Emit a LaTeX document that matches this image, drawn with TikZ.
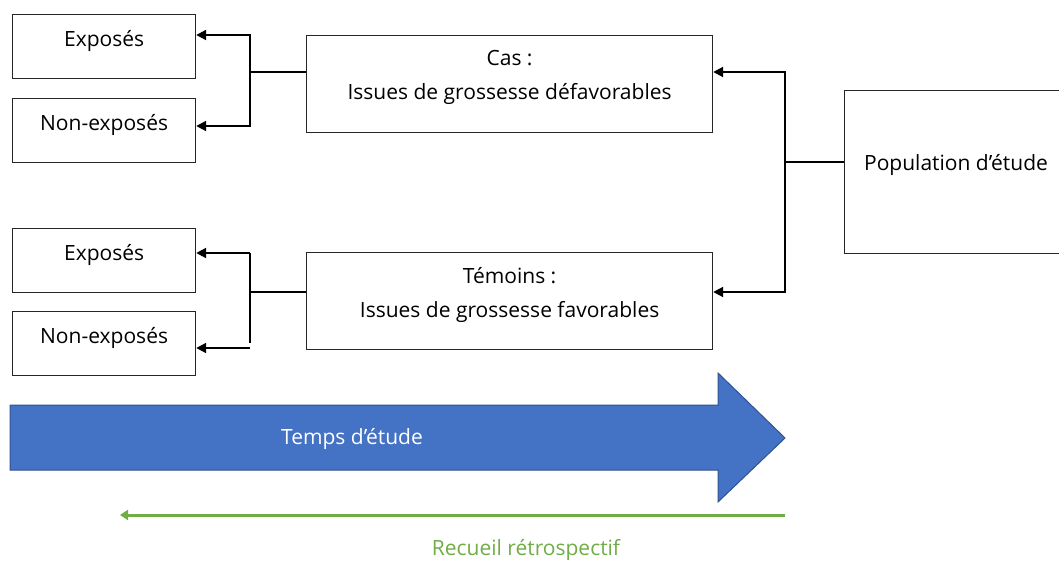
\documentclass[tikz,border=0pt]{standalone}
\usepackage{fontspec}
\setmainfont{Open Sans}
\usetikzlibrary{arrows.meta}
\definecolor{bleu}{HTML}{4472C4}
\definecolor{bleufonce}{HTML}{2F528F}
\definecolor{vert}{HTML}{70AD47}

\begin{document}
\begin{tikzpicture}[x=1pt, y=-1pt,
	boite/.style={draw=black!85, line width=1.2pt, rectangle, inner sep=0pt, anchor=north west},
	txt/.style={font=\fontsize{21}{34}\selectfont, align=center, inner sep=0pt},
	fleche/.style={line width=2pt, -{Triangle[length=10pt, width=10pt]}},
	trait/.style={line width=2pt}]
	\useasboundingbox (0,0) rectangle (1059,561);
	
	\node[boite, minimum width=183pt, minimum height=64pt, label={[txt, anchor=base, yshift=-32.5pt]north:Exposés}] (e1) at (12,14) {};
	\node[boite, minimum width=183pt, minimum height=64pt, label={[txt, anchor=base, yshift=-32.5pt]north:Non-exposés}] (ne1) at (12,98) {};
	\node[boite, minimum width=183pt, minimum height=64pt, label={[txt, anchor=base, yshift=-32.5pt]north:Exposés}] (e2) at (12,228) {};
	\node[boite, minimum width=183pt, minimum height=64pt, label={[txt, anchor=base, yshift=-32.5pt]north:Non-exposés}] (ne2) at (12,311) {};
	\node[boite, minimum width=406pt, minimum height=97pt, label={[txt, anchor=base, yshift=-65pt]north:Cas :\\Issues de grossesse défavorables}] (cas) at (306,35) {};
	\node[boite, minimum width=406pt, minimum height=97pt, label={[txt, anchor=base, yshift=-65pt]north:Témoins :\\Issues de grossesse favorables}] (tem) at (306,252) {};
	\node[boite, minimum width=225pt, minimum height=163pt] (pop) at (844,90) {};
	\node[txt, anchor=base] (poptxt) at (956,170.5) {Population d’étude};
	
	\coordinate (j1) at (250,72);
	\coordinate (j1a) at (250,35);
	\coordinate (j1b) at (250,126);
	\coordinate (j2) at (250,292);
	\coordinate (j2a) at (250,253);
	\coordinate (j2b) at (250,343);
	\coordinate (j2c) at (250,348);
	\coordinate (j3) at (785,162);
	\coordinate (j3a) at (785,72);
	\coordinate (j3b) at (785,292);
	
	\draw[trait] (cas.west |- j1) -- (j1);
	\draw[fleche] (j1) -- (j1a) -- (e1.east |- j1a);
	\draw[fleche] (j1) -- (j1b) -- (ne1.east |- j1b);
	
	\draw[trait] (tem.west |- j2) -- (j2);
	\draw[trait] (j2a) -- (j2b);
	\draw[fleche] (j2a) -- (e2.east |- j2a);
	\draw[fleche] (j2c) -- (ne2.east |- j2c);
	
	\draw[trait] (pop.west |- j3) -- (j3);
	\draw[fleche] (j3) -- (j3a) -- (cas.east |- j3a);
	\draw[fleche] (j3) -- (j3b) -- (tem.east |- j3b);
	
	\filldraw[fill=bleu, draw=bleufonce, line width=1pt] (10,405) -- (718,405) -- (718,373) -- (785,438) -- (718,502) -- (718,470) -- (10,470) -- cycle;
	\node[txt, text=white] (temps) at (352,439) {Temps d’étude};
	
	\coordinate (r1) at (785,515);
	\coordinate (r2) at (120,515);
	\draw[vert, line width=3pt, -{Triangle[length=8pt, width=10pt]}] (r1) -- (r2);
	\node[txt, text=vert] (recueil) at (526,550) {Recueil rétrospectif};
	
\end{tikzpicture}
\end{document}
